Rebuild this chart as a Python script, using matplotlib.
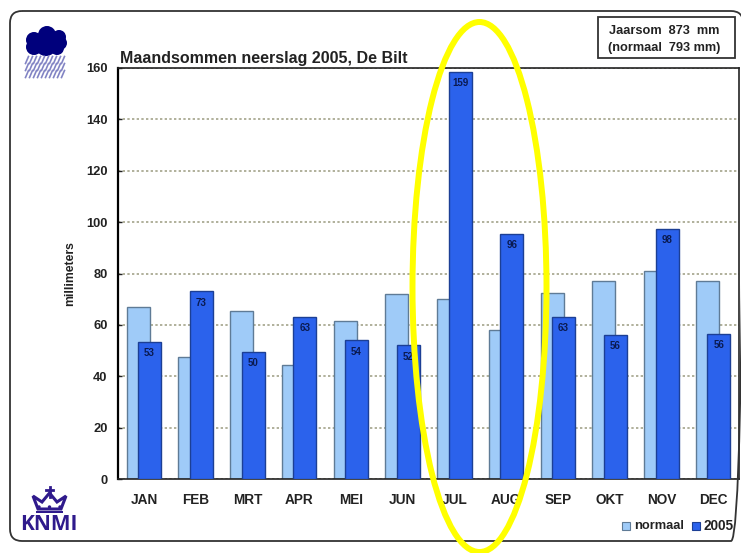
import matplotlib
matplotlib.use("Agg")
import matplotlib.pyplot as plt
from matplotlib.patches import Circle, Ellipse, FancyBboxPatch, Rectangle, Polygon
import numpy as np

months = ["JAN", "FEB", "MRT", "APR", "MEI", "JUN", "JUL", "AUG", "SEP", "OKT", "NOV", "DEC"]
normaal = [67, 47.5, 65.5, 44.5, 61.5, 72, 70, 58, 72.5, 77, 81, 77]
neerslag_2005 = [53.5, 73, 49.5, 63, 54, 52, 158.5, 95.5, 63, 56, 97.5, 56.5]
labels_2005 = ["53", "73", "50", "63", "54", "52", "159", "96", "63", "56", "98", "56"]
yticks = [0, 20, 40, 60, 80, 100, 120, 140, 160]

plt.rcParams["font.family"] = ["Liberation Sans", "DejaVu Sans"]
plt.rcParams["font.weight"] = "bold"

W, H = 741, 553
fig = plt.figure(figsize=(W / 100, H / 100), dpi=100)

# chart area, pixel box
ax = fig.add_axes([118 / W, 1 - 479 / H, (739 - 118) / W, (479 - 68) / H])
x = np.arange(len(months))
bw = 0.445
off = 0.11
ax.bar(x - off, normaal, bw, color="#9fcbf8", edgecolor="#5f7b96", linewidth=1.0, label="normaal", zorder=2)
ax.bar(x + off, neerslag_2005, bw, color="#2b62ec", edgecolor="#1c3f95", linewidth=1.0, label="2005", zorder=3)
for i, v in enumerate(neerslag_2005):
    ax.annotate(labels_2005[i], (x[i] + off, v), xytext=(0, -4.5), textcoords="offset points", ha="center", va="top",
                fontsize=7, color="#0a1a50", zorder=4)

ax.set_xlim(-0.5, 11.5)
ax.set_ylim(0, 160)
ax.set_yticks(yticks)
ax.set_xticks(x)
ax.set_xticklabels(months)
ax.tick_params(axis="y", direction="in", length=3, width=1, color="#222222", labelsize=9.3, pad=7.5, labelcolor="#222222")
ax.tick_params(axis="x", length=0, labelsize=9.8, pad=10, labelcolor="#222222")
ax.set_axisbelow(True)
ax.grid(axis="y", linestyle=(0, (1.4, 1.4)), color="#a3a38a", linewidth=1.2, zorder=1)
for s in ax.spines.values():
    s.set_color("#222222")
    s.set_linewidth(1.2)
ax.spines["left"].set_color("black")
ax.spines["left"].set_linewidth(1.6)
ax.set_ylabel("millimeters", fontsize=8.8, fontweight="bold", color="#222222")
ax.yaxis.set_label_coords(-0.0676, 0.5)
ax.text(0.003, 1.006, "Maandsommen neerslag 2005, De Bilt", transform=ax.transAxes, fontsize=11.5,
        color="#222222", ha="left", va="bottom")

# overlay in pixel coordinates for frame, logos and the hand drawn ellipse
ov = fig.add_axes([0, 0, 1, 1], zorder=5)
ov.set_xlim(0, W)
ov.set_ylim(H, 0)
ov.axis("off")
ov.patch.set_alpha(0)

ov.add_patch(FancyBboxPatch((10, 11), 733, 530, boxstyle="round,pad=0,rounding_size=12", fill=False,
                            edgecolor="#333333", linewidth=1.3, zorder=1))

# annual totals box
ov.add_patch(Rectangle((598, 17), 137, 41, facecolor="white", edgecolor="#333333", linewidth=1.3, zorder=2))
ov.text(664, 31, "Jaarsom  873  mm", ha="center", va="center", fontsize=9.2, color="#222222", zorder=3)
ov.text(664.5, 47.5, "(normaal  793 mm)", ha="center", va="center", fontsize=9.2, color="#222222", zorder=3)

# rain cloud icon
for cx, cy, r in [(34, 40, 8), (47, 35, 9), (59, 37, 7), (60, 43, 7), (46, 45, 11), (34, 47, 8), (57, 48, 7)]:
    ov.add_patch(Circle((cx, cy), r, color="#00007c", lw=0, zorder=3))
for cx in range(27, 66, 4):
    for cy in (60, 67, 74):
        ov.plot([cx + 1.5, cx - 1.5], [cy - 3.5, cy + 3.5], color="#8284c4", lw=1.2, zorder=3)

# KNMI logo
purple = "#2f1a8c"
ov.add_patch(Polygon([(33, 496), (38, 509), (61, 509), (66, 496), (57, 502), (49.5, 493), (42, 502)],
                     closed=True, facecolor="none", edgecolor=purple, lw=2.2, zorder=3))
ov.plot([49.5, 49.5], [487, 497], color=purple, lw=2, zorder=3)
ov.plot([46, 53], [490, 490], color=purple, lw=2, zorder=3)
for cx in (39, 49.5, 60):
    ov.add_patch(Circle((cx, 507), 1.7, color=purple, lw=0, zorder=3))
ov.add_patch(Rectangle((36, 511), 27, 2.4, color=purple, lw=0, zorder=3))
ov.text(48.5, 524, "KNMI", ha="center", va="center", fontsize=15, color=purple,
        family=["Open Sans", "DejaVu Sans"], fontweight="bold", zorder=3)

# legend
ov.add_patch(Rectangle((622, 522), 8, 8, facecolor="#9fcbf8", edgecolor="#5f7b96", lw=0.8, zorder=3))
ov.text(634, 526, "normaal", ha="left", va="center", fontsize=9.3, color="#222222", zorder=3)
ov.add_patch(Rectangle((692, 522), 8, 8, facecolor="#2b62ec", edgecolor="#1c3f95", lw=0.8, zorder=3))
ov.text(703, 526, "2005", ha="left", va="center", fontsize=9.8, color="#222222", zorder=3)

# yellow ellipse around the summer months
ov.add_patch(Ellipse((479.5, 287), 134, 530, fill=False, edgecolor="#ffff00", linewidth=4.3, zorder=4))

fig.savefig("out.png", dpi=100, facecolor="white")
